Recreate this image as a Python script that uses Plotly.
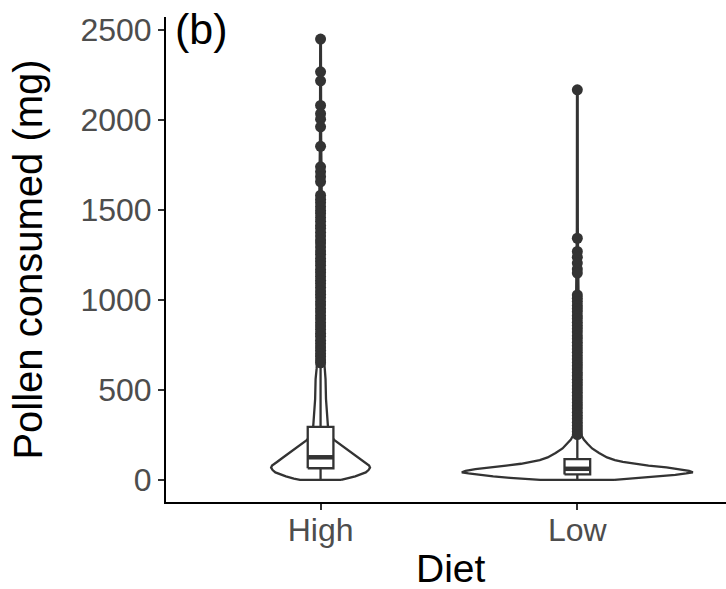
import plotly.graph_objects as go

# Diet groups and their positions on the x axis
diets = ["High", "Low"]
positions = [1, 2]

# Box-plot summaries of pollen consumed (mg)
whisker_low = [0, 0]
q1 = [65, 31]
median = [126, 62]
q3 = [295, 116]
whisker_high = [635, 235]

# Points beyond the whiskers (mg)
high_outliers = [
    2450, 2268, 2218, 2081, 2035, 2005, 1962, 1854, 1740, 1712, 1685, 1657,
    1582, 1560, 1541, 1518, 1497, 1480, 1458, 1437, 1415, 1398, 1376, 1355,
    1333, 1317, 1295, 1272, 1254, 1231, 1212, 1193, 1170, 1152, 1131, 1110,
    1092, 1071, 1050, 1032, 1013, 990, 972, 951, 933, 912, 894, 873, 855,
    836, 815, 798, 776, 758, 739, 721, 702, 686, 667, 651,
]
low_outliers = [
    2168, 1343, 1270, 1238, 1205, 1172, 1150,
    1028, 1010, 991, 970, 952, 934, 913, 896, 876, 858, 840, 822, 801, 784,
    765, 746, 727, 709, 690, 672, 653, 634, 617, 597, 579, 560, 542, 523,
    505, 487, 468, 450, 431, 412, 395, 376, 358, 340, 321, 303, 285, 268, 252,
]

# Kernel density outlines: pollen level (mg) and relative density (1 = widest)
high_density_y = [0, 8, 20, 32, 42, 55, 68, 80, 100, 125, 150, 175, 200, 221,
                  245, 270, 295, 350, 450, 560, 620, 700, 900, 1200, 1600,
                  1900, 2450]
high_density = [0.178, 0.231, 0.300, 0.351, 0.391, 0.415, 0.428, 0.420,
                0.377, 0.325, 0.274, 0.218, 0.167, 0.120, 0.090, 0.073,
                0.064, 0.056, 0.047, 0.043, 0.034, 0.027, 0.021, 0.016,
                0.010, 0.005, 0.003]
low_density_y = [0, 5, 12, 20, 28, 36, 42, 50, 60, 70, 80, 90, 100, 110, 125,
                 150, 175, 200, 225, 250, 300, 400, 600, 1000, 1400, 2168]
low_density = [0.321, 0.428, 0.582, 0.728, 0.848, 0.942, 1.000, 0.967,
               0.882, 0.771, 0.616, 0.488, 0.394, 0.325, 0.257, 0.188,
               0.128, 0.090, 0.056, 0.034, 0.026, 0.021, 0.017, 0.009,
               0.004, 0.003]

VIOLIN_WIDTH = 0.9
BOX_WIDTH = 0.1
INK = "#333333"
FONT = "Liberation Sans, Arial, sans-serif"

fig = go.Figure()

# Violins: mirrored density outline, filled white
for pos, ys, dens in [(positions[0], high_density_y, high_density),
                      (positions[1], low_density_y, low_density)]:
    half = [d * VIOLIN_WIDTH / 2 for d in dens]
    xs = [pos + h for h in half] + [pos - h for h in reversed(half)]
    yy = list(ys) + list(reversed(ys))
    xs.append(xs[0])
    yy.append(yy[0])
    fig.add_trace(go.Scatter(
        x=xs, y=yy, mode="lines", fill="toself", fillcolor="white",
        line=dict(color=INK, width=2.3), hoverinfo="skip", showlegend=False,
    ))

# Box plots: whiskers, box and a heavier median line
for i, pos in enumerate(positions):
    fig.add_trace(go.Scatter(
        x=[pos, pos, None, pos, pos],
        y=[whisker_low[i], q1[i], None, q3[i], whisker_high[i]],
        mode="lines", line=dict(color=INK, width=2.3),
        hoverinfo="skip", showlegend=False,
    ))
    l, r = pos - BOX_WIDTH / 2, pos + BOX_WIDTH / 2
    fig.add_trace(go.Scatter(
        x=[l, r, r, l, l], y=[q1[i], q1[i], q3[i], q3[i], q1[i]],
        mode="lines", fill="toself", fillcolor="white",
        line=dict(color=INK, width=2.3), hoverinfo="skip", showlegend=False,
    ))
    fig.add_trace(go.Scatter(
        x=[l, r], y=[median[i], median[i]], mode="lines",
        line=dict(color=INK, width=4.5), hoverinfo="skip", showlegend=False,
    ))

# Outlying points
for pos, pts in [(positions[0], high_outliers), (positions[1], low_outliers)]:
    fig.add_trace(go.Scatter(
        x=[pos] * len(pts), y=pts, mode="markers",
        marker=dict(color=INK, size=11, line=dict(width=0)),
        showlegend=False,
    ))

fig.update_layout(
    width=726, height=589,
    margin=dict(l=166, r=0, t=17, b=87),
    paper_bgcolor="white", plot_bgcolor="white",
    font=dict(family=FONT, color="black"),
    showlegend=False,
    xaxis=dict(
        range=[0.398, 2.579], tickmode="array", tickvals=positions,
        ticktext=diets, showgrid=False, zeroline=False,
        showline=True, linecolor="black", linewidth=2,
        ticks="outside", ticklen=6, tickwidth=2, tickcolor=INK,
        ticklabelstandoff=-7,
        tickfont=dict(size=32, color="#4D4D4D", family=FONT),
    ),
    yaxis=dict(
        range=[-122.5, 2572.5], tickmode="array",
        tickvals=[0, 500, 1000, 1500, 2000, 2500],
        showgrid=False, zeroline=False,
        showline=True, linecolor="black", linewidth=2,
        ticks="outside", ticklen=6, tickwidth=2, tickcolor=INK,
        tickfont=dict(size=32, color="#4D4D4D", family=FONT),
        title=dict(text="Pollen consumed (mg)",
                   font=dict(size=40, color="black", family=FONT), standoff=25),
    ),
    annotations=[
        dict(text="(b)", xref="paper", yref="paper", x=0.012, y=0.975,
             xanchor="left", yanchor="middle", showarrow=False,
             font=dict(size=43, color="black", family=FONT)),
        dict(text="Diet", xref="paper", yref="paper", x=0.509, y=-0.138,
             xanchor="center", yanchor="middle", showarrow=False,
             font=dict(size=39, color="black", family=FONT)),
    ],
)

fig.write_html("out.html")
